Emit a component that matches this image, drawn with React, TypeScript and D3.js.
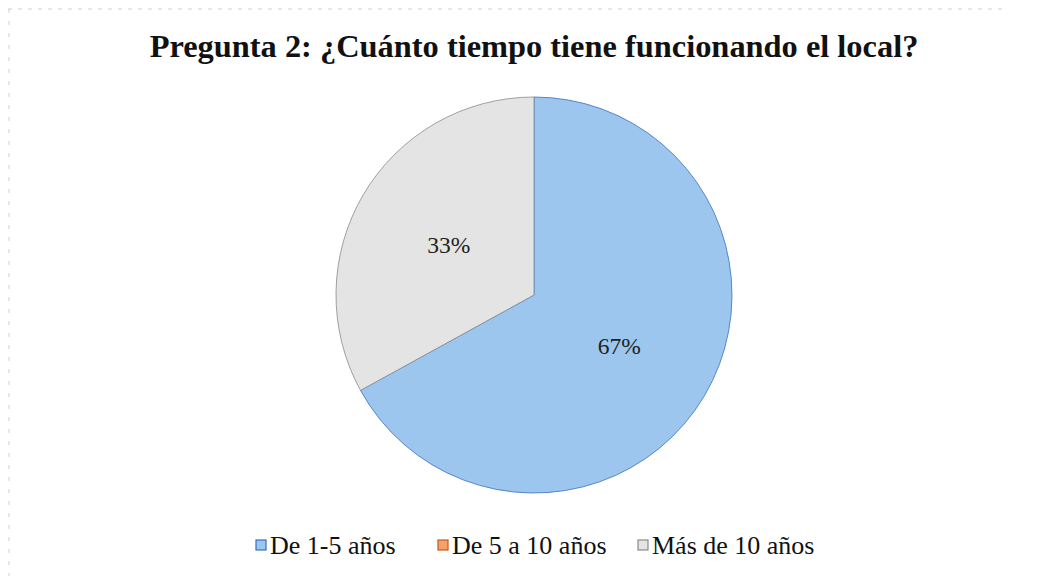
import React from "react";
import * as d3 from "d3";

const categories = ["De 1-5 años", "De 5 a 10 años", "Más de 10 años"];
const values = [67, 0, 33];
const labels = ["67%", "0%", "33%"];
const fills = ["#9cc6ee", "#f4a26a", "#e4e4e4"];
const strokes = ["#3a6fc0", "#c45a1a", "#8a8a8a"];
const title = "Pregunta 2: ¿Cuánto tiempo tiene funcionando el local?";

const W = 1044;
const H = 576;
const cx = 534;
const cy = 295;
const R = 198;

export default function App() {
  const pie = d3.pie<number>().sort(null).value((d) => d);
  const arcs = pie(values);
  const arc = d3.arc<d3.PieArcDatum<number>>().innerRadius(0).outerRadius(R);
  const labelArc = d3.arc<d3.PieArcDatum<number>>().innerRadius(R * 0.5).outerRadius(R * 0.5);

  const legendX = [256, 438, 638];
  const legendY = 545;

  return (
    <svg width={W} height={H} style={{ position: "absolute", left: 0, top: 0, background: "#fff" }}
      fontFamily="'Liberation Serif', 'Times New Roman', serif">
      <line x1={8} y1={9} x2={1002} y2={9} stroke="#cfcfcf" strokeWidth={1} strokeDasharray="4 6" />
      <line x1={9} y1={9} x2={9} y2={576} stroke="#cfcfcf" strokeWidth={1} strokeDasharray="4 8" />
      <text x={534} y={57} textAnchor="middle" fontSize={32.4} fontWeight="bold" fill="#111">{title}</text>
      <g transform={`translate(${cx},${cy})`}>
        {arcs.map((a, i) =>
          values[i] > 0 ? (
            <path key={i} d={arc(a) || ""} fill={fills[i]} stroke={strokes[i]} strokeWidth={0.8} />
          ) : null
        )}
        {arcs.map((a, i) => {
          if (values[i] <= 0) return null;
          const [x, y] = labelArc.centroid(a);
          return (
            <text key={"l" + i} x={x} y={y} dy="0.35em" textAnchor="middle" fontSize={23.5} fill="#222">
              {labels[i]}
            </text>
          );
        })}
      </g>
      {categories.map((c, i) => (
        <g key={"lg" + i} transform={`translate(${legendX[i]},${legendY})`}>
          <rect x={0} y={-5} width={10} height={10} fill={fills[i]} stroke={strokes[i]} strokeWidth={1.2} />
          <text x={14} y={0} dy="0.35em" fontSize={26} fill="#111">{c}</text>
        </g>
      ))}
    </svg>
  );
}
